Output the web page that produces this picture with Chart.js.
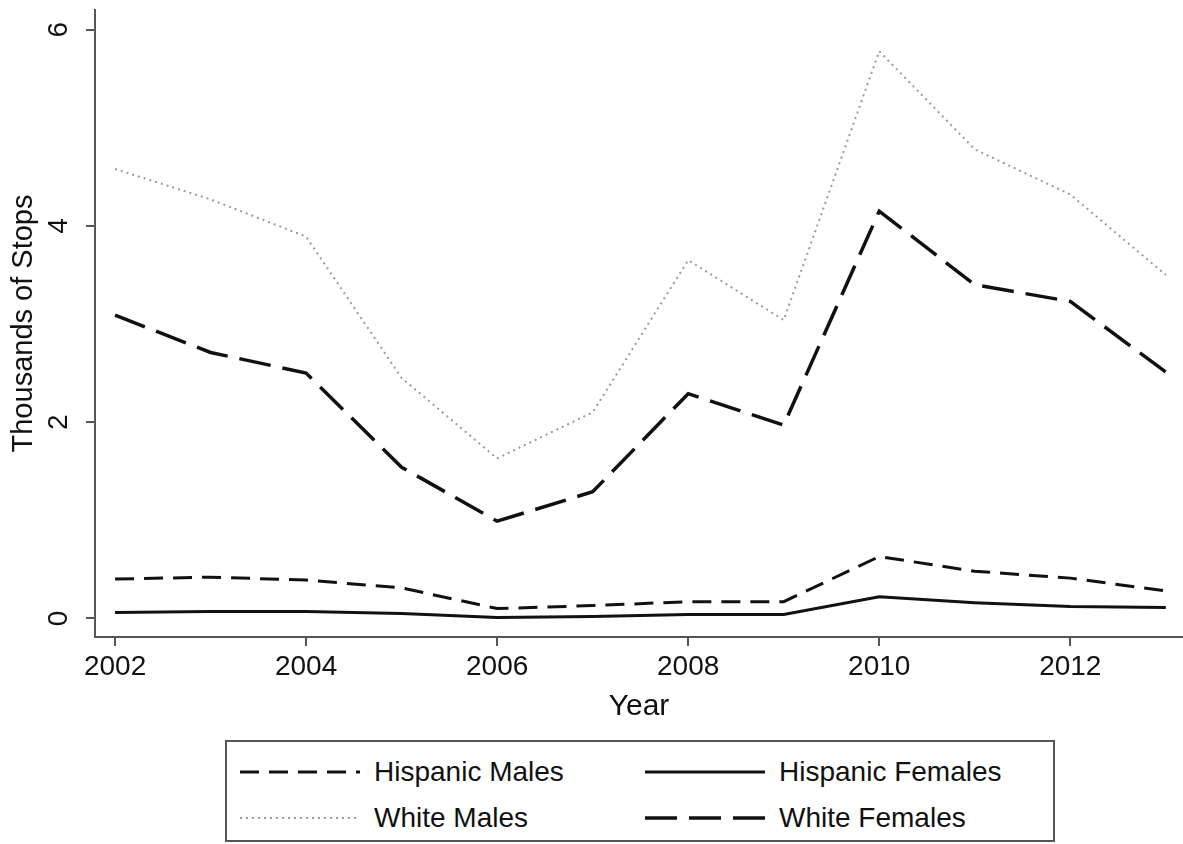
<!DOCTYPE html>
<html>
<head>
<meta charset="utf-8">
<script src="https://cdn.jsdelivr.net/npm/chart.js@4.4.0/dist/chart.umd.min.js"></script>
<style>
    html, body { margin: 0; padding: 0; background: #fff; }
    body {
        width: 1183px; height: 844px; position: relative; overflow: hidden;
        font-family: "Liberation Sans", Arial, sans-serif;
    }
    #wrap { position: absolute; left: 0; top: 0; width: 1183px; height: 725px; }
    #legend {
        position: absolute; left: 225px; top: 740px; width: 830px; height: 102px;
        box-sizing: border-box; border: 2px solid #555;
        display: grid; grid-template-columns: 405px 405px;
        padding: 10px 0 0 13px; row-gap: 3px;
    }
    .item { display: flex; align-items: center; height: 40px; }
    .item svg { width: 120px; height: 10px; margin-right: 14px; }
    .item span { font-size: 28px; color: #111; }
</style>
</head>
<body>
<div id="wrap"><canvas id="chart"></canvas></div>
<div id="legend"></div>
<script>
// Values (thousands of stops)
const years = [2002, 2003, 2004, 2005, 2006, 2007, 2008, 2009, 2010, 2011, 2012, 2013];
const hispanicMales   = [0.40, 0.42, 0.39, 0.31, 0.10, 0.13, 0.17, 0.17, 0.63, 0.48, 0.41, 0.28];
const hispanicFemales = [0.06, 0.07, 0.07, 0.05, 0.01, 0.02, 0.04, 0.04, 0.22, 0.16, 0.12, 0.11];
const whiteMales      = [4.58, 4.27, 3.89, 2.45, 1.63, 2.10, 3.65, 3.04, 5.78, 4.78, 4.32, 3.50];
const whiteFemales    = [3.09, 2.71, 2.50, 1.54, 0.99, 1.29, 2.29, 1.97, 4.15, 3.40, 3.23, 2.51];
const xTicks = [2002, 2004, 2006, 2008, 2010, 2012];
const yTicks = [0, 2, 4, 6];

const FONT = '"Liberation Sans", Arial, sans-serif';
const toPoints = values => values.map((v, i) => ({ x: years[i], y: v }));

function series(label, values, color, width, dash) {
    return {
        label: label,
        data: toPoints(values),
        borderColor: color,
        borderWidth: width,
        borderDash: dash,
        pointRadius: 0,
        pointHoverRadius: 0,
        tension: 0,
        fill: false
    };
}

// y tick labels are drawn rotated, like the original
const rotatedYLabels = {
    id: 'rotatedYLabels',
    afterDraw(chart) {
        const scale = chart.scales.y;
        const ctx = chart.ctx;
        ctx.save();
        ctx.fillStyle = '#111';
        ctx.font = '28px ' + FONT;
        ctx.textAlign = 'center';
        ctx.textBaseline = 'middle';
        yTicks.forEach(t => {
            ctx.save();
            ctx.translate(scale.right - 36, scale.getPixelForValue(t));
            ctx.rotate(-Math.PI / 2);
            ctx.fillText(String(t), 0, 0);
            ctx.restore();
        });
        ctx.restore();
    }
};

const ctx = document.getElementById('chart').getContext('2d');
const chart = new Chart(ctx, {
    type: 'line',
    data: {
        datasets: [
            series('Hispanic Males', hispanicMales, '#111', 3, [19, 10]),
            series('Hispanic Females', hispanicFemales, '#111', 3, []),
            series('White Males', whiteMales, '#9a9a9a', 2, [2, 4]),
            series('White Females', whiteFemales, '#111', 3.5, [32, 12])
        ]
    },
    options: {
        responsive: true,
        maintainAspectRatio: false,
        animation: false,
        layout: { padding: { top: 10, right: 0, left: 0, bottom: 0 } },
        plugins: {
            legend: { display: false },
            tooltip: { enabled: false }
        },
        scales: {
            x: {
                type: 'linear',
                min: 2001.79,
                max: 2013.18,
                afterBuildTicks: scale => { scale.ticks = xTicks.map(v => ({ value: v })); },
                afterFit: scale => { scale.height = 88; },
                ticks: {
                    color: '#111',
                    font: { family: FONT, size: 28 },
                    padding: 4,
                    maxRotation: 0,
                    callback: v => String(v)
                },
                grid: { drawOnChartArea: false, drawTicks: true, tickLength: 9, color: '#555', lineWidth: 2 },
                border: { display: true, color: '#555', width: 2 },
                title: {
                    display: true,
                    text: 'Year',
                    color: '#111',
                    font: { family: FONT, size: 30 },
                    padding: { top: 0, bottom: 0 }
                }
            },
            y: {
                min: -0.19,
                max: 6.2,
                afterBuildTicks: scale => { scale.ticks = yTicks.map(v => ({ value: v })); },
                afterFit: scale => { scale.width = 95; },
                ticks: { display: false },
                grid: { drawOnChartArea: false, drawTicks: true, tickLength: 9, color: '#555', lineWidth: 2 },
                border: { display: true, color: '#555', width: 2 },
                title: {
                    display: true,
                    text: 'Thousands of Stops',
                    color: '#111',
                    font: { family: FONT, size: 29 },
                    padding: { top: 7, bottom: 0 }
                }
            }
        }
    },
    plugins: [rotatedYLabels]
});

// Legend box below the chart, built from the datasets
const legend = document.getElementById('legend');
chart.data.datasets.forEach(ds => {
    const item = document.createElement('div');
    item.className = 'item';
    const dash = (ds.borderDash || []).join(' ');
    item.innerHTML =
        '<svg viewBox="0 0 120 10"><line x1="0" y1="5" x2="120" y2="5" stroke="' + ds.borderColor +
        '" stroke-width="' + ds.borderWidth + '" stroke-dasharray="' + dash + '"/></svg>' +
        '<span>' + ds.label + '</span>';
    legend.appendChild(item);
});
</script>
</body>
</html>
